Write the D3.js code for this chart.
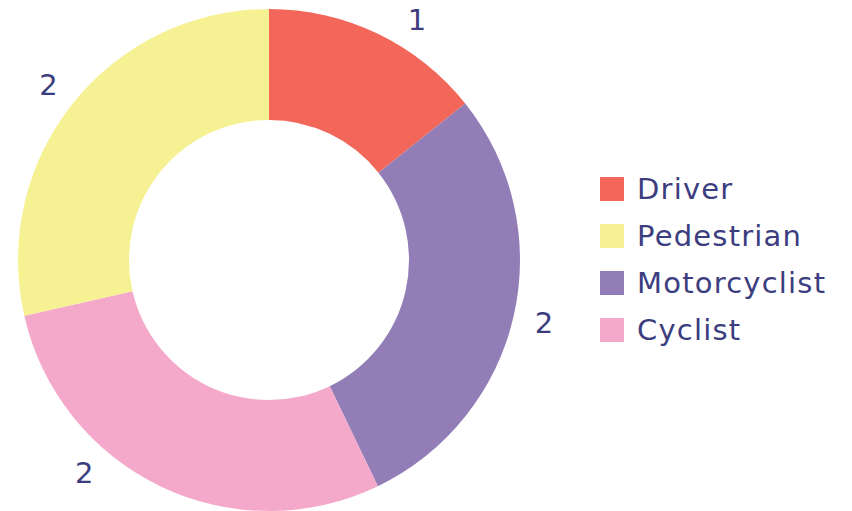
<!DOCTYPE html>
<html><head><meta charset="utf-8">
<script src="https://cdn.jsdelivr.net/npm/d3@7"></script>
<style>body{margin:0;background:#fff}svg{display:block}</style>
</head><body>
<script>
const categories = ["Driver", "Motorcyclist", "Cyclist", "Pedestrian"];
const values = [1, 2, 2, 2];
const legendOrder = ["Driver", "Pedestrian", "Motorcyclist", "Cyclist"];
const colors = {Driver:"#f3675a", Pedestrian:"#f6f192", Motorcyclist:"#927db7", Cyclist:"#f4a9ca"};
const textColor = "#3b3d7e";
const W = 852, H = 511;
const FONT = "'DejaVu Sans', sans-serif";
const svg = d3.select("body").append("svg").attr("width", W).attr("height", H);
const cx = 269, cy = 260, R = 251, r0 = 140, rl = 282;
const data = categories.map((c,i)=>({cat:c, value:values[i]}));
const pie = d3.pie().value(d=>d.value).sort(null);
const arcs = pie(data);
const arc = d3.arc().innerRadius(r0).outerRadius(R);
const labelArc = d3.arc().innerRadius(rl).outerRadius(rl);
const g = svg.append("g").attr("transform", `translate(${cx},${cy})`);
g.selectAll("path").data(arcs).enter().append("path")
  .attr("d", arc).attr("fill", d=>colors[d.data.cat]);
// label positions: centroid on label circle, kept inside the canvas
function labelPos(d){
  let [x,y] = labelArc.centroid(d);
  const yMin = 20 - cy, yMax = 473 - cy;
  if (y < yMin || y > yMax){
    y = Math.max(yMin, Math.min(yMax, y));
    x = Math.sign(x) * Math.sqrt(Math.max(0, rl*rl - y*y));
  }
  return [x,y];
}
g.selectAll("text").data(arcs).enter().append("text")
  .attr("transform", d=>`translate(${labelPos(d)})`)
  .attr("text-anchor","middle").attr("dy","0.36em")
  .attr("font-family",FONT).attr("font-size",29)
  .attr("fill", textColor).text(d=>d.data.value);
const leg = svg.append("g").attr("transform","translate(600,177)");
const li = leg.selectAll("g").data(legendOrder).enter().append("g")
  .attr("transform",(d,i)=>`translate(0,${i*47})`);
li.append("rect").attr("width",24).attr("height",24).attr("fill",d=>colors[d]);
li.append("text").attr("x",37).attr("y",12).attr("dy","0.36em")
  .attr("font-family",FONT).attr("font-size",29).attr("letter-spacing","1.2px")
  .attr("fill",textColor).text(d=>d);
</script>
</body></html>
